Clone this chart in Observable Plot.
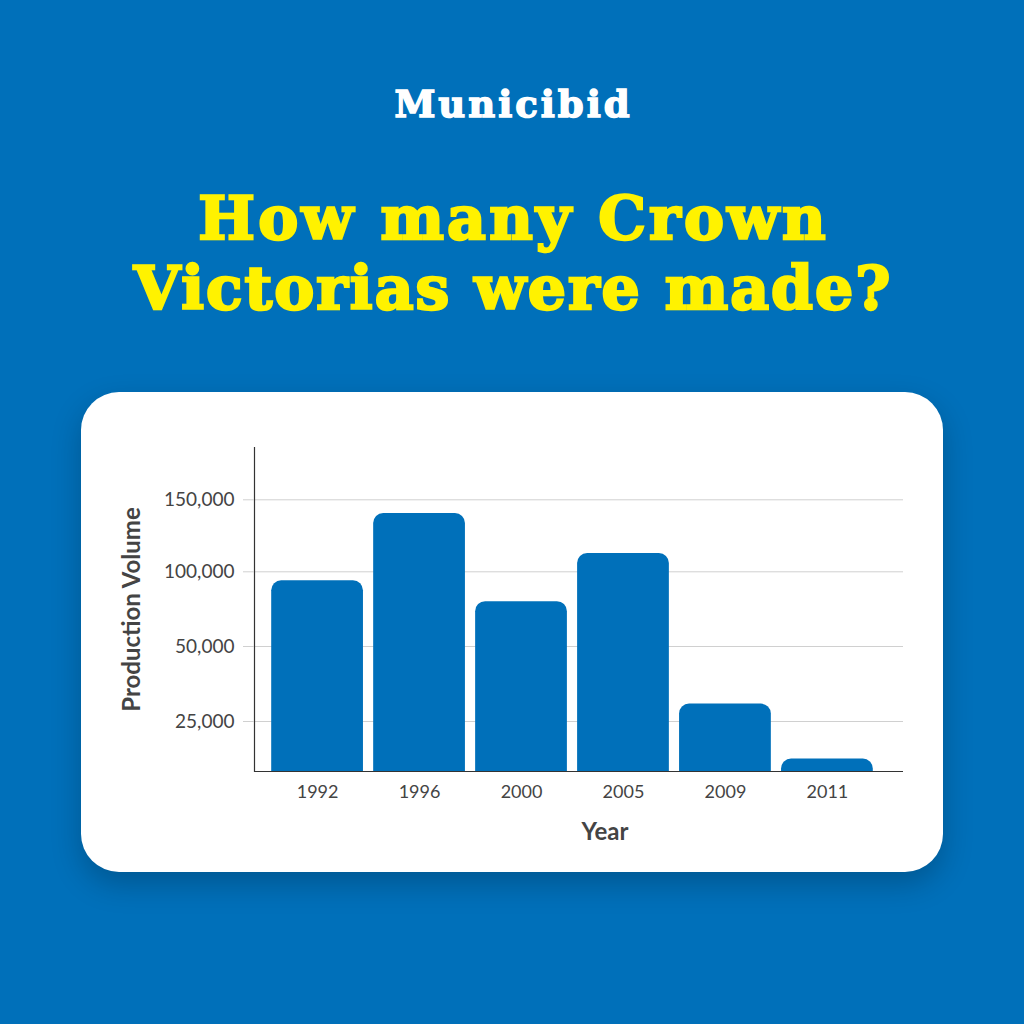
<!DOCTYPE html>
<html><head><meta charset="utf-8">
<script src="https://cdn.jsdelivr.net/npm/d3@7"></script>
<script src="https://cdn.jsdelivr.net/npm/@observablehq/plot@0.6"></script>
<style>
body{margin:0;}
#page{position:relative;width:1024px;height:1024px;background:#0070ba;overflow:hidden;font-family:Lato,sans-serif;}
#brand{position:absolute;left:0;right:0;top:85.7px;text-align:center;color:#fff;font:bold 37px "DejaVu Serif";line-height:37px;letter-spacing:3px;padding-left:3px;-webkit-text-stroke:1.5px #fff;}
.tline{position:absolute;left:0;right:0;text-align:center;color:#fff200;font:bold 60px "DejaVu Serif";line-height:70px;height:70px;letter-spacing:2px;padding-left:2px;-webkit-text-stroke:2.5px #fff200;}
#card{position:absolute;left:81px;top:392px;width:862px;height:480px;background:#fff;border-radius:38px;box-shadow:0 12px 30px rgba(0,0,0,0.22);}
#card svg{position:absolute;left:0;top:0}
</style></head><body>
<div id="page">
<div id="brand">Municibid</div>
<div class="tline" style="top:183px;letter-spacing:3.2px;padding-left:3.2px">How many Crown</div>
<div class="tline" style="top:253px">Victorias were made?</div>
<div id="card"></div>
</div>
<script>
const years = ["1992", "1996", "2000", "2005", "2009", "2011"];
const production = [94000, 140500, 80000, 112700, 30800, 6200];
const yTicks = [25000, 50000, 100000, 150000];
const yBreaks = [0, 25000, 50000, 100000, 150000, 186000];
const xLabel = "Year";
const yLabel = "Production Volume";

const data = years.map((year, i) => ({year, value: production[i]}));

const W = 862, H = 480, mt = 55, mb = 101, ml = 173, mr = 40;
// the source chart spaces its ticks unevenly: piecewise-linear y scale (pixels above baseline)
const yStops = [0, 50, 125, 199.7, 271.7, 323.7];
const yRange = yStops.map(s => H - mb - s);

const chart = Plot.plot({
  width: W, height: H,
  marginTop: mt, marginBottom: mb, marginLeft: ml, marginRight: mr,
  style: {background: "transparent", fontFamily: "Lato, sans-serif", color: "#444"},
  x: {type: "band", domain: years, paddingInner: 0.1, paddingOuter: 0.1, insetLeft: 7, insetRight: 20, round: false, label: null},
  y: {type: "linear", domain: yBreaks, range: yRange, label: null},
  marks: [
    Plot.gridY(yTicks, {stroke: "#d0d0d0", strokeOpacity: 1}),
    Plot.barY(data, {x: "year", y: "value", fill: "#0070ba", rx: 10, insetBottom: -14, clip: true}),
    Plot.ruleY([0], {stroke: "#333", strokeWidth: 1.2}),
    Plot.frame({anchor: "left", stroke: "#333", strokeWidth: 1.2}),
    Plot.axisY(yTicks, {tickSize: 11, tickPadding: 9, stroke: "#d0d0d0", fill: "#444", fontSize: 19, tickFormat: d3.format(","), label: null}),
    Plot.axisX({tickSize: 0, tickPadding: 14, fill: "#444", fontSize: 18, label: null}),
    Plot.text([yLabel], {frameAnchor: "left", rotate: -90, dx: -122, textAnchor: "middle", fontSize: 24, fontWeight: "bold", fill: "#444", lineAnchor: "middle"}),
    Plot.text([xLabel], {frameAnchor: "bottom", dx: 26, dy: 61, textAnchor: "middle", fontSize: 24, fontWeight: "bold", fill: "#444", lineAnchor: "middle"})
  ]
});
document.getElementById("card").appendChild(chart);
</script>
</body></html>
